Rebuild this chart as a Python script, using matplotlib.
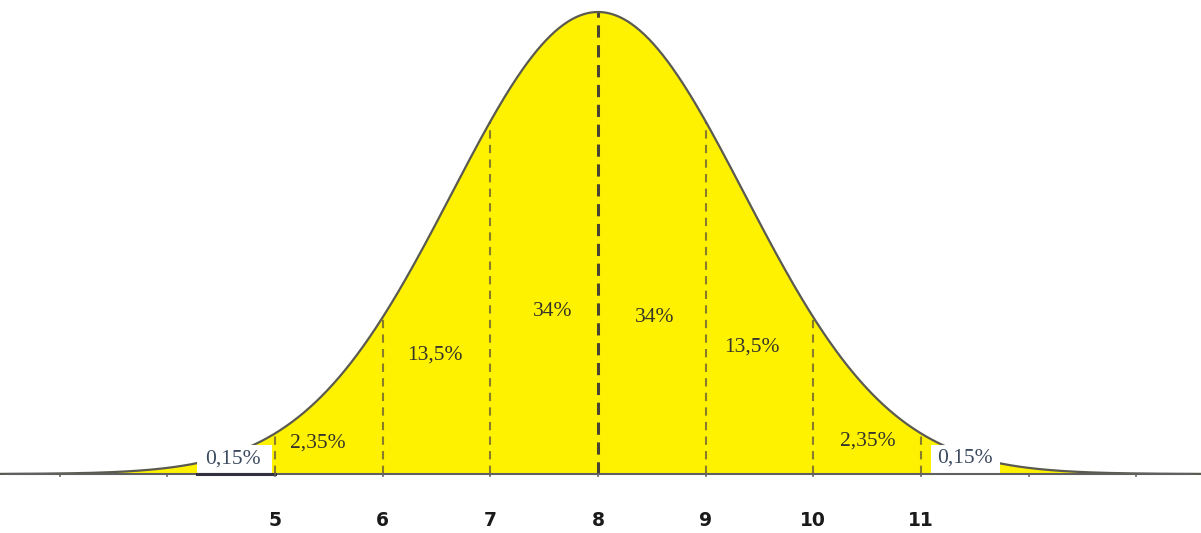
import matplotlib
matplotlib.use("Agg")

import matplotlib.pyplot as plt
from matplotlib.patches import Rectangle
import numpy as np

# data
mean = 8.0
curve_sd = 1.36
tick_values = [5, 6, 7, 8, 9, 10, 11]
tick_labels = ["5", "6", "7", "8", "9", "10", "11"]
minor_ticks = [3, 4, 5, 6, 7, 8, 9, 10, 11, 12, 13]
pct_labels = ["0,15%", "2,35%", "13,5%", "34%", "34%", "13,5%", "2,35%", "0,15%"]

# label placement (styling)
pct_x = [4.61, 5.40, 6.49, 7.58, 8.53, 9.43, 10.51, 11.41]
pct_py = [459, 443, 355, 312, 318, 347, 441, 458]

W, H = 1201, 533
px_per_unit = 107.67
axis_py = 474
peak_py = 12
peak = 1 / (curve_sd * np.sqrt(2 * np.pi))
scale = peak / (axis_py - peak_py)


def py_to_y(py):
    return (axis_py - py) * scale


def px_to_x(px):
    return mean + (px - 598) / px_per_unit


def pdf(x):
    return np.exp(-0.5 * ((x - mean) / curve_sd) ** 2) / (curve_sd * np.sqrt(2 * np.pi))


fig = plt.figure(figsize=(W / 100, H / 100), dpi=100)
ax = fig.add_axes([0, 0, 1, 1])
x0, x1 = px_to_x(0), px_to_x(W)
ax.set_xlim(x0, x1)
ax.set_ylim(py_to_y(H), py_to_y(0))
ax.axis("off")

xs = np.linspace(x0, x1, 800)
ys = pdf(xs)
ax.fill_between(xs, 0, ys, color="#fff200", lw=0, zorder=1)
ax.plot(xs, ys, color="#5a5a50", lw=1.6, zorder=3)

# white patches behind the tail labels
for left, right in [(197, 272), (931, 1000)]:
    ax.add_patch(Rectangle((px_to_x(left), 0), px_to_x(right) - px_to_x(left),
                           py_to_y(445), fc="white", ec="none", zorder=5))

# axis line and small ticks
ax.plot([px_to_x(8), px_to_x(1190)], [0, 0], color="#606060", lw=1.5, zorder=6)
ax.plot([px_to_x(197), tick_values[0]], [0, 0], color="#303040", lw=2.2, zorder=6)
for t in minor_ticks:
    ax.plot([t, t], [0, -2 * scale], color="#606060", lw=1.2, zorder=6)

# vertical dashed lines
for t in tick_values:
    top = pdf(t)
    if t == mean:
        ax.plot([t, t], [0, top], color="#4a4530", lw=2.2, ls=(0, (4, 2.5)), zorder=2)
    else:
        ax.plot([t, t], [0, top], color="#8a7d2a", lw=1.5, ls=(0, (4, 3)), zorder=2)

# x labels
for t, lab in zip(tick_values, tick_labels):
    ax.text(t, py_to_y(521), lab, ha="center", va="center", fontsize=13.5,
            fontweight="bold", family="DejaVu Sans", color="#1a1a1a")

# percentage labels
for i, (x, py, lab) in enumerate(zip(pct_x, pct_py, pct_labels)):
    edge = i == 0 or i == len(pct_labels) - 1
    ax.text(x, py_to_y(py), lab, ha="center", va="center", fontsize=15.5,
            family="Liberation Serif", color="#3c4a60" if edge else "#34342a",
            zorder=7)

fig.savefig("out.png", dpi=100)
plt.close(fig)
